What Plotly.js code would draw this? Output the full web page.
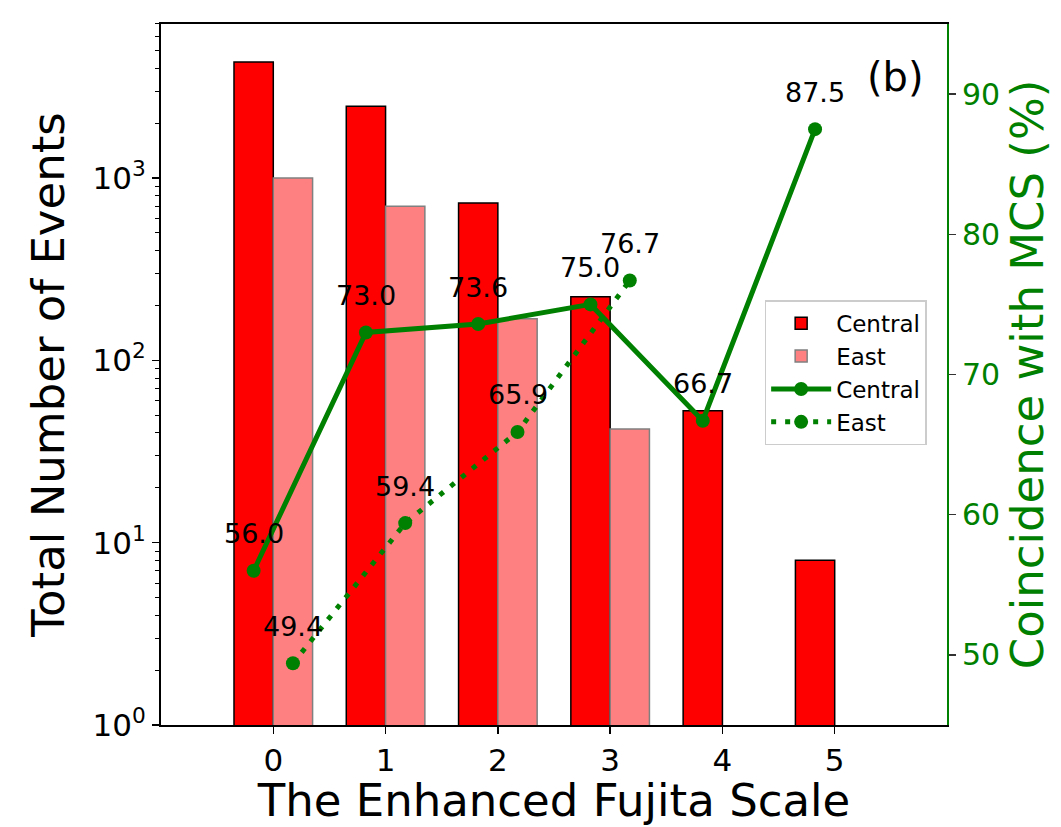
<!DOCTYPE html>
<html><head><meta charset="utf-8">
<script src="https://cdn.plot.ly/plotly-3.0.1.min.js"></script>
<style>html,body{margin:0;padding:0;background:#fff}</style>
</head><body><div id="chart" style="width:1061px;height:827px"></div>
<script>
// Data
const efScale = [0, 1, 2, 3, 4, 5];
const eastScale = [0, 1, 2, 3];
const centralEvents = [4330, 2480, 730, 223, 53, 8];
const eastEvents = [1000, 700, 169, 42];
const centralPct = [56.0, 73.0, 73.6, 75.0, 66.7, 87.5];
const eastPct = [49.4, 59.4, 65.9, 76.7];
const yTickVals = [1, 10, 100, 1000];
const yTickText = ['10<sup>0</sup>', '10<sup>1</sup>', '10<sup>2</sup>', '10<sup>3</sup>'];
const yMinorVals = [2,3,4,5,6,7,8,9,20,30,40,50,60,70,80,90,200,300,400,500,600,700,800,900,2000,3000,4000,5000,6000,7000];
const y2TickVals = [50, 60, 70, 80, 90];
const xTickVals = [0, 1, 2, 3, 4, 5];

const off = 0.175;
const FONT = 'DejaVu Sans, sans-serif';
const GREEN = '#008000';

const traces = [
  {type: 'bar', name: 'Central', x: efScale, y: centralEvents, offsetgroup: 'c',
   marker: {color: '#FF0000', line: {color: '#000000', width: 1.5}}},
  {type: 'bar', name: 'East', x: eastScale, y: eastEvents, offsetgroup: 'e',
   marker: {color: '#FF8080', line: {color: '#808080', width: 1.5}}},
  {type: 'scatter', mode: 'lines+markers', name: 'Central', yaxis: 'y2',
   x: efScale.map(v => v - off), y: centralPct,
   line: {color: GREEN, width: 5}, marker: {color: GREEN, size: 14}},
  {type: 'scatter', mode: 'lines+markers', name: 'East', yaxis: 'y2',
   x: eastScale.map(v => v + off), y: eastPct,
   line: {color: GREEN, width: 5, dash: '5px,9px'}, marker: {color: GREEN, size: 14}}
];

const annotations = [];
centralPct.forEach((v, i) => annotations.push({x: efScale[i] - off, y: v, xref: 'x', yref: 'y2',
  text: v.toFixed(1), showarrow: false, yshift: 37, font: {family: FONT, size: 27, color: '#000'}}));
eastPct.forEach((v, i) => annotations.push({x: eastScale[i] + off, y: v, xref: 'x', yref: 'y2',
  text: v.toFixed(1), showarrow: false, yshift: 37, font: {family: FONT, size: 27, color: '#000'}}));
annotations.push({x: 0.935, y: 0.925, xref: 'paper', yref: 'paper', xanchor: 'center', yanchor: 'middle',
  text: '(b)', showarrow: false, font: {family: FONT, size: 40, color: '#000'}});

const layout = {
  width: 1061, height: 827,
  margin: {l: 161, r: 114, t: 24, b: 102, pad: 0},
  paper_bgcolor: '#fff', plot_bgcolor: '#fff',
  font: {family: FONT, color: '#000'},
  barmode: 'group', bargap: 0.3, bargroupgap: 0,
  showlegend: true,
  legend: {x: 0.768, y: 0.606, xanchor: 'left', yanchor: 'top', bgcolor: '#fff',
    bordercolor: '#cccccc', borderwidth: 1.5, font: {family: FONT, size: 23, color: '#000'},
    traceorder: 'normal', tracegroupgap: 0, itemwidth: 60},
  xaxis: {range: [-1, 6], tickvals: xTickVals, ticks: 'outside', ticklen: 7, tickwidth: 1.5,
    tickcolor: '#000', showgrid: false, zeroline: false, showline: true, linecolor: '#000',
    linewidth: 2, mirror: true, automargin: false,
    tickfont: {family: FONT, size: 31, color: '#000'},
    title: {text: 'The Enhanced Fujita Scale', font: {family: FONT, size: 45, color: '#000'}, standoff: 16}},
  yaxis: {type: 'log', range: [0, 3.845], tickmode: 'array', tickvals: yTickVals, ticktext: yTickText,
    ticks: 'outside', ticklen: 7, tickwidth: 1.5, tickcolor: '#000',
    minor: {tickmode: 'array', tickvals: yMinorVals, ticks: 'outside', ticklen: 4, tickwidth: 1, tickcolor: '#000', showgrid: false},
    showgrid: false, zeroline: false, showline: true, linecolor: '#000', linewidth: 2, automargin: false,
    tickfont: {family: FONT, size: 31, color: '#000'},
    title: {text: 'Total Number of Events', font: {family: FONT, size: 45, color: '#000'}, standoff: 14}},
  yaxis2: {overlaying: 'y', side: 'right', range: [45, 95], tickvals: y2TickVals,
    ticks: 'outside', ticklen: 7, tickwidth: 1.5, tickcolor: '#333',
    showgrid: false, zeroline: false, showline: true, linecolor: GREEN, linewidth: 2, automargin: false,
    tickfont: {family: FONT, size: 30, color: GREEN},
    title: {text: 'Coincidence with MCS (%)', font: {family: FONT, size: 45, color: GREEN}, standoff: 12}},
  annotations: annotations
};

Plotly.newPlot('chart', traces, layout, {displayModeBar: false, staticPlot: true});
</script></body></html>
